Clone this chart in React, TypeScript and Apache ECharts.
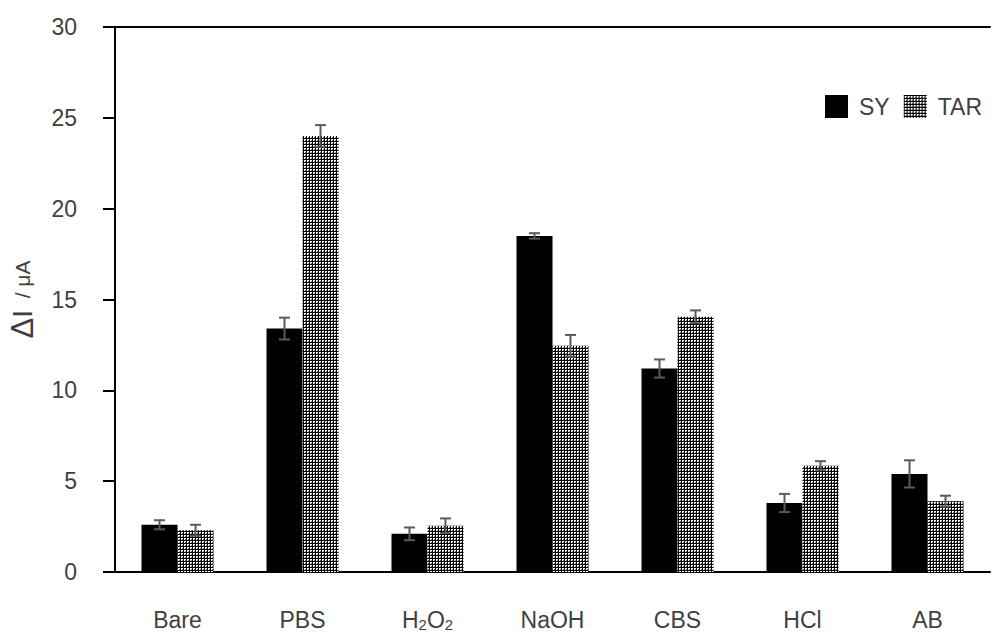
import React, { useEffect, useRef } from "react";
import * as echarts from "echarts";

const categories = ["Bare", "PBS", "H2O2", "NaOH", "CBS", "HCl", "AB"];
const seriesNames = ["SY", "TAR"];
const syValues = [2.6, 13.4, 2.1, 18.5, 11.2, 3.8, 5.4];
const syErrors = [0.25, 0.6, 0.35, 0.15, 0.5, 0.5, 0.75];
const tarValues = [2.3, 24.0, 2.55, 12.45, 14.05, 5.85, 3.9];
const tarErrors = [0.3, 0.6, 0.4, 0.6, 0.35, 0.25, 0.3];
const yTicks = { min: 0, max: 30, interval: 5 };

const BAR_W = 36;
const TEXT = "#404040";
const FONT = "'Liberation Sans', Arial, sans-serif";

function makePattern(): HTMLCanvasElement {
  const c = document.createElement("canvas");
  c.width = 3;
  c.height = 3;
  const ctx = c.getContext("2d")!;
  ctx.fillStyle = "#ffffff";
  ctx.fillRect(0, 0, 3, 3);
  ctx.fillStyle = "#000000";
  ctx.fillRect(0, 0, 3, 1);
  ctx.fillRect(0, 0, 1, 3);
  ctx.fillStyle = "#707070";
  ctx.fillRect(2, 2, 1, 1);
  return c;
}

function errorSeries(values: number[], errors: number[], offset: number) {
  return {
    type: "custom",
    z: 10,
    silent: true,
    data: values.map((v, i) => [i, v, errors[i]]),
    renderItem: (params: any, api: any) => {
      const idx = api.value(0);
      const v = api.value(1);
      const e = api.value(2);
      const top = api.coord([idx, v + e]);
      const bot = api.coord([idx, v - e]);
      const x = top[0] + offset;
      const hw = 5.5;
      const style = { stroke: "#5a5a5a", lineWidth: 2 };
      return {
        type: "group",
        children: [
          { type: "line", shape: { x1: x, y1: top[1], x2: x, y2: bot[1] }, style },
          { type: "line", shape: { x1: x - hw, y1: top[1], x2: x + hw, y2: top[1] }, style },
          { type: "line", shape: { x1: x - hw, y1: bot[1], x2: x + hw, y2: bot[1] }, style },
        ],
      };
    },
  };
}

export default function App() {
  const ref = useRef<HTMLDivElement>(null);
  useEffect(() => {
    if (!ref.current) return;
    const chart = echarts.init(ref.current, undefined, { renderer: "svg" });
    const pattern = { image: makePattern(), repeat: "repeat" };
    chart.setOption({
      animation: false,
      backgroundColor: "#ffffff",
      grid: { left: 115, right: 2, top: 27, bottom: 61, containLabel: false, outerBoundsMode: "none" },
      legend: {
        data: seriesNames,
        icon: "rect",
        right: 5,
        top: 90,
        itemWidth: 23,
        itemHeight: 23,
        itemGap: 14,
        textStyle: { color: TEXT, fontSize: 23, fontFamily: FONT, padding: [0, 0, 0, 6] },
      },
      xAxis: [
        {
          type: "category",
          data: categories,
          axisLine: { lineStyle: { color: "#000", width: 2 } },
          axisTick: { show: false },
          axisLabel: {
            color: TEXT,
            fontSize: 23,
            fontFamily: FONT,
            margin: 36,
            interval: 0,
            formatter: (v: string) => (v === "H2O2" ? "{m|H}{s|2}{m|O}{s|2}" : "{m|" + v + "}"),
            rich: {
              m: { fontSize: 23, fontFamily: FONT, color: TEXT, verticalAlign: "top", lineHeight: 23 },
              s: { fontSize: 15, fontFamily: FONT, color: TEXT, verticalAlign: "top", lineHeight: 15, padding: [9, 0, 0, 0] },
            },
          },
        },
        {
          type: "category",
          position: "top",
          data: categories,
          axisLine: { lineStyle: { color: "#000", width: 2 } },
          axisTick: { show: false },
          axisLabel: { show: false },
        },
      ],
      yAxis: {
        type: "value",
        min: yTicks.min,
        max: yTicks.max,
        interval: yTicks.interval,
        splitLine: { show: false },
        axisLine: { show: true, lineStyle: { color: "#000", width: 2 } },
        axisTick: { show: true, length: 12, lineStyle: { color: "#000", width: 2 } },
        axisLabel: { color: TEXT, fontSize: 23, fontFamily: FONT, margin: 38 },
        name: "{d|Δ}{i|I}{s|  / μA}",
        nameLocation: "middle",
        nameRotate: 90,
        nameGap: 78,
        nameTextStyle: {
          color: TEXT,
          fontFamily: FONT,
          rich: {
            d: { fontSize: 31, fontFamily: FONT, color: TEXT, lineHeight: 30 },
            i: { fontSize: 28, fontFamily: FONT, color: TEXT, lineHeight: 30 },
            s: { fontSize: 21, fontFamily: FONT, color: TEXT, lineHeight: 30 },
          },
        },
      },
      series: [
        {
          name: seriesNames[0],
          type: "bar",
          data: syValues,
          barWidth: BAR_W,
          barGap: "0%",
          itemStyle: { color: "#000000" },
        },
        {
          name: seriesNames[1],
          type: "bar",
          data: tarValues,
          barWidth: BAR_W,
          barGap: "0%",
          itemStyle: { color: pattern },
        },
        errorSeries(syValues, syErrors, -BAR_W / 2),
        errorSeries(tarValues, tarErrors, BAR_W / 2),
      ],
    });
    return () => chart.dispose();
  }, []);
  return (
    <div
      ref={ref}
      style={{ position: "absolute", left: 0, top: 0, width: 992, height: 633 }}
    />
  );
}
